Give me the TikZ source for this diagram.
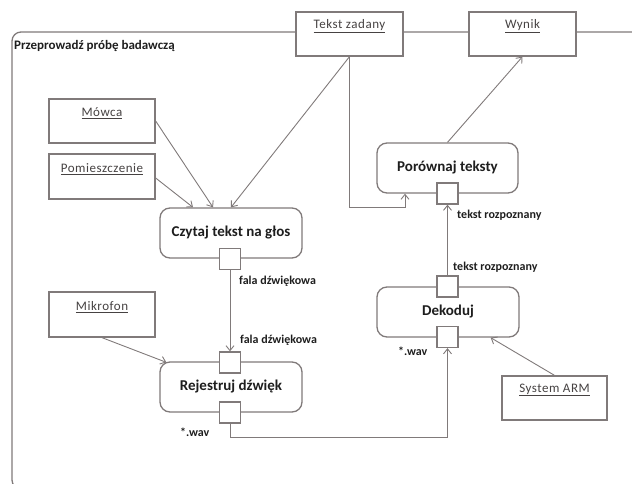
\documentclass[tikz,border=0pt]{standalone}
\usepackage{fontspec}
\setmainfont{Carlito}
\newfontfamily\objfont[LetterSpace=4]{Carlito}
\usetikzlibrary{arrows.meta,calc}
\definecolor{linec}{RGB}{128,122,122}
\definecolor{txtc}{RGB}{30,30,30}
\definecolor{objtxt}{RGB}{70,66,66}
\tikzset{
  x=1pt,y=1pt,
  objbox/.style={draw=linec,fill=white,line width=1.3pt,rectangle,inner sep=0pt},
  actbox/.style={draw=linec,fill=white,line width=1.3pt,rectangle,rounded corners=10pt,inner sep=0pt,
     font=\fontsize{15}{17}\selectfont\bfseries,text=txtc},
  pinbox/.style={draw=linec,fill=white,line width=1.3pt,rectangle,minimum width=21pt,minimum height=21pt,inner sep=0pt},
  objlabel/.style={font=\objfont\fontsize{13}{15}\selectfont,text=objtxt,inner sep=0pt},
  flowlabel/.style={font=\fontsize{12}{14}\selectfont\bfseries,text=txtc,anchor=west,inner sep=0pt},
  conn/.style={draw=linec,line width=0.9pt,-{Straight Barb[length=5pt,width=8pt,line width=0.9pt]}},
  plain/.style={draw=linec,line width=0.9pt},
}
\newcommand{\ulbl}[1]{\underline{#1}}
\begin{document}
\begin{tikzpicture}
\useasboundingbox (0,0) rectangle (632,-484);
% frame
\draw[draw=linec,line width=1.3pt,rounded corners=9pt] (645,-32) -- (12,-32) -- (12,-489) -- (645,-489);
\node[font=\fontsize{13}{15}\selectfont\bfseries,text=txtc,anchor=west,inner sep=0pt] (title) at (14,-46) {Przeprowadź próbę badawczą};

% object nodes
\node[objbox,minimum width=107pt,minimum height=44pt] (tz) at (349.5,-34) {};
\node[objlabel] (tzl) at (349.5,-26) {\ulbl{Tekst zadany}};
\node[objbox,minimum width=107pt,minimum height=44pt] (wynik) at (522.5,-34) {};
\node[objlabel] (wynikl) at (522.5,-26) {\ulbl{Wynik}};
\node[objbox,minimum width=106pt,minimum height=44pt] (mowca) at (102,-121) {};
\node[objlabel] (mowcal) at (102,-113) {\ulbl{Mówca}};
\node[objbox,minimum width=106pt,minimum height=45pt] (pom) at (102,-176.5) {};
\node[objlabel] (poml) at (102,-169) {\ulbl{Pomieszczenie}};
\node[objbox,minimum width=106pt,minimum height=45pt] (mik) at (102,-314.5) {};
\node[objlabel] (mikl) at (102,-307) {\ulbl{Mikrofon}};
\node[objbox,minimum width=105pt,minimum height=44pt] (arm) at (554.5,-398) {};
\node[objlabel] (arml) at (554.5,-390) {\ulbl{System ARM}};

% actions
\node[actbox,minimum width=142pt,minimum height=50pt] (czytaj) at (231,-233) {Czytaj tekst na głos};
\node[actbox,minimum width=142pt,minimum height=50pt] (rej) at (231,-387) {Rejestruj dźwięk};
\node[actbox,minimum width=141pt,minimum height=50pt] (por) at (447.5,-168) {Porównaj teksty};
\node[actbox,minimum width=142pt,minimum height=50pt] (dek) at (448,-312) {Dekoduj};

% pins
\node[pinbox] (p1) at (230,-259) {};
\node[pinbox] (p2) at (230,-362.5) {};
\node[pinbox] (p3) at (230,-412.5) {};
\node[pinbox] (p4) at (447.5,-193.5) {};
\node[pinbox] (p5) at (447.5,-286.5) {};
\node[pinbox] (p6) at (447.5,-337) {};

% connectors
\draw[conn] (mowca.east) -- ([xshift=-18pt]czytaj.north);
\draw[conn] ([yshift=-1.5pt]pom.east) -- ([xshift=-38pt]czytaj.north);
\draw[conn] (tz.south) -- (czytaj.north);
\draw[conn] (tz.south) |- ([xshift=-42.5pt,yshift=-14pt]por.south) -- ([xshift=-42.5pt]por.south);
\draw[conn] (por.north) -- (wynik.south);
\draw[conn] (p1.south) -- (p2.north);
\draw[conn] (mik.south) -- ([xshift=7pt,yshift=-1pt]rej.north west);
\draw[conn] (p3.south) -- ++(0,-14) -| (p6.south);
\draw[conn] (p5.north) -- (p4.south);
\draw[conn] (arm.north) -- ([xshift=-29pt]dek.south east);

% labels
\node[flowlabel] (l1) at (239,-281) {fala dźwiękowa};
\node[flowlabel] (l2) at (240,-340) {fala dźwiękowa};
\node[flowlabel] (l3) at (180,-432) {*.wav};
\node[flowlabel] (l4) at (457,-215) {tekst rozpoznany};
\node[flowlabel] (l5) at (453,-267) {tekst rozpoznany};
\node[flowlabel] (l6) at (398,-351) {*.wav};
\end{tikzpicture}
\end{document}
